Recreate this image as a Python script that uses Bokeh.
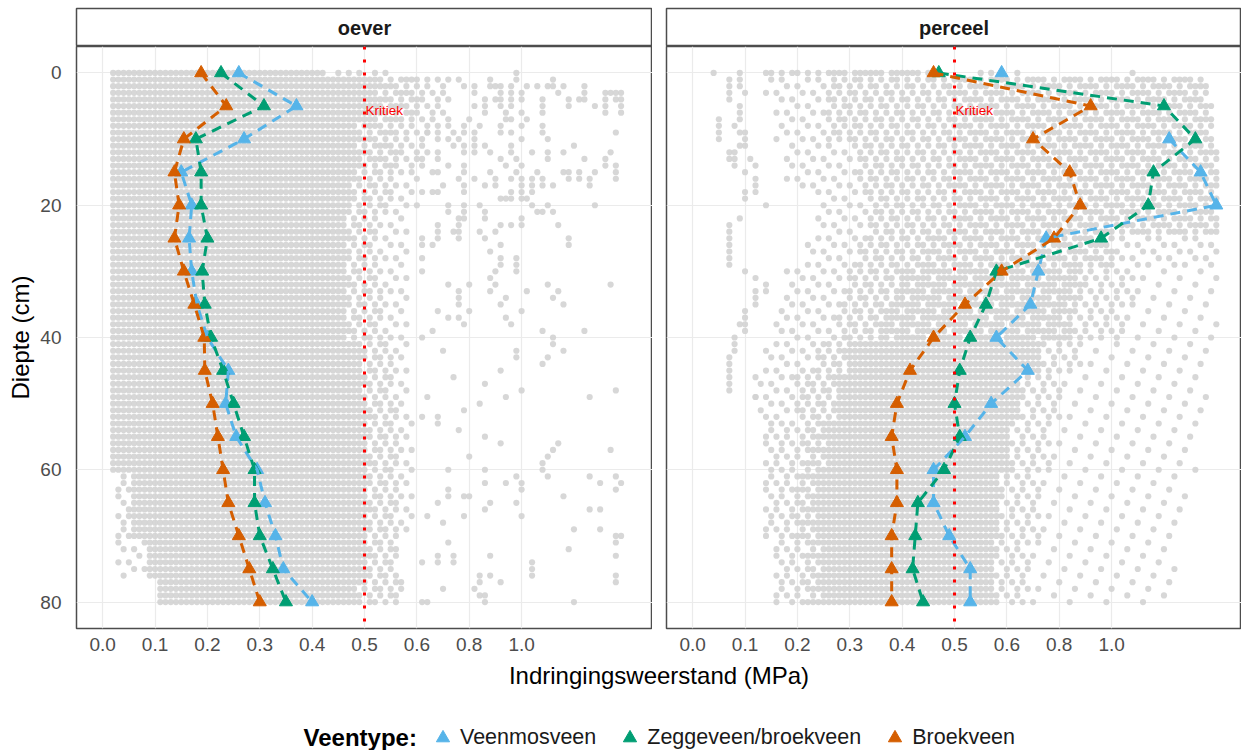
from bokeh.plotting import figure
from bokeh.models import Range1d, FixedTicker, Span, Label, Legend, LegendItem
from bokeh.layouts import column, row
from bokeh.embed import file_html
from bokeh.resources import INLINE

FONT = "Liberation Sans"
NA = float("nan")

# ---------------------------------------------------------------- data
# mean penetration resistance per depth, x in axis-scale units
DEPTHS = [0, 5, 10, 15, 20, 25, 30, 35, 40, 45, 50, 55, 60, 65, 70, 75, 80]

oever_veenmos = [0.26, 0.37, 0.27, 0.15, 0.17, 0.165, 0.17, 0.18, 0.20, 0.24, 0.235,
                 0.255, 0.295, 0.31, 0.33, 0.345, 0.40]
oever_zegge = [0.226, 0.308, 0.178, 0.188, 0.188, 0.20, 0.19, 0.195, 0.207, 0.23, 0.25,
               0.27, 0.29, 0.29, 0.30, 0.325, 0.35]
oever_broek = [0.188, 0.236, 0.155, 0.137, 0.146, 0.137, 0.155, 0.175, 0.194, 0.195, 0.21,
               0.22, 0.23, 0.24, 0.26, 0.28, 0.30]

perceel_veenmos = [0.59, NA, 0.91, 0.97, 1.00, 0.675, 0.66, 0.645, 0.58, 0.64, 0.57,
                   0.52, 0.46, 0.46, 0.49, 0.53, 0.53]
perceel_zegge = [0.47, 0.90, 0.96, 0.88, 0.87, 0.78, 0.58, 0.56, 0.53, 0.51, 0.50,
                 0.51, 0.48, 0.43, 0.425, 0.42, 0.44]
perceel_broek = [0.46, 0.76, 0.65, 0.72, 0.74, 0.69, 0.59, 0.52, 0.46, 0.415, 0.39,
                 0.38, 0.39, 0.39, 0.38, 0.38, 0.38]

# individual measurements on the 0.01 x 1 cm measuring grid.
# bands: (first depth, last depth, [(x from, x to, occupied cells out of 7), ...])
oever_bands = [
    (0, 0, [(0.02, 0.42, 7), (0.43, 0.55, 3)]),
    (1, 7, [(0.02, 0.52, 7), (0.53, 0.60, 5), (0.61, 0.66, 3)]),
    (8, 14, [(0.02, 0.48, 7), (0.49, 0.56, 5), (0.57, 0.62, 3)]),
    (15, 20, [(0.02, 0.47, 7), (0.48, 0.55, 4), (0.56, 0.60, 2)]),
    (21, 30, [(0.02, 0.46, 7), (0.47, 0.52, 4), (0.53, 0.58, 2)]),
    (31, 40, [(0.02, 0.46, 7), (0.47, 0.53, 4), (0.54, 0.58, 2)]),
    (41, 50, [(0.02, 0.49, 7), (0.50, 0.55, 4), (0.56, 0.58, 2)]),
    (51, 60, [(0.02, 0.50, 7), (0.51, 0.56, 4), (0.57, 0.59, 2)]),
    (61, 70, [(0.03, 0.05, 3), (0.06, 0.50, 7), (0.51, 0.56, 4), (0.57, 0.59, 2)]),
    (71, 76, [(0.03, 0.08, 2), (0.09, 0.50, 7), (0.51, 0.56, 4)]),
    (77, 80, [(0.11, 0.48, 7), (0.49, 0.57, 4)]),
]
oever_tail = {
    0: [0.79], 1: [0.68, 0.74, 0.79, 0.86],
    2: [0.69, 0.71, 0.74, 0.75, 0.76, 0.78, 0.81, 0.83, 0.85, 0.86, 0.88, 0.92],
    3: [0.71, 0.76, 0.78, 0.80, 0.87, 0.92, 0.96, 0.97, 0.98, 0.99],
    4: [0.73, 0.75, 0.76, 0.78, 0.80, 0.84, 0.89, 0.91, 0.92, 0.96, 0.98, 0.99],
    5: [0.71, 0.73, 0.76, 0.78, 0.84, 0.89, 0.94, 0.96, 0.99],
    6: [0.73, 0.77, 0.80, 0.84, 0.96, 0.99], 7: [0.70, 0.77, 0.78, 0.81],
    8: [0.64, 0.66, 0.69, 0.72, 0.76, 0.80, 0.84],
    9: [0.62, 0.64, 0.67, 0.69, 0.71, 0.76, 0.78, 0.84, 0.98],
    10: [0.64, 0.66, 0.68, 0.71, 0.80, 0.85], 11: [0.67, 0.69, 0.71, 0.73, 0.78, 0.90],
    12: [0.64, 0.69, 0.71, 0.74, 0.78, 0.82, 0.85, 0.88, 0.97],
    13: [0.61, 0.64, 0.76, 0.79, 0.85, 0.92, 0.96], 14: [0.66, 0.69, 0.77, 0.80, 0.96, 0.98],
    15: [0.63, 0.64, 0.69, 0.74, 0.79, 0.83, 0.88, 0.89, 0.91, 0.94, 0.98],
    16: [0.68, 0.71, 0.75, 0.78, 0.80, 0.82, 0.84, 0.89, 0.91, 0.93, 0.98],
    17: [0.65, 0.69, 0.73, 0.75, 0.80, 0.82, 0.84, 0.86, 0.93],
    18: [0.61, 0.63, 0.64, 0.69, 0.78, 0.80, 0.82], 19: [0.76, 0.77, 0.78, 0.80, 0.81],
    20: [0.66, 0.69, 0.72, 0.82, 0.85, 0.94], 21: [0.66, 0.69, 0.73, 0.83, 0.84, 0.86],
    22: [0.68, 0.69, 0.73, 0.80], 23: [0.64, 0.68, 0.76, 0.78, 0.80, 0.87],
    24: [0.64, 0.67, 0.68, 0.72, 0.75], 25: [0.61, 0.64, 0.68, 0.73, 0.89],
    26: [0.61, 0.63, 0.76, 0.89], 27: [0.74], 28: [0.61, 0.76, 0.79], 29: [0.76, 0.79],
    30: [0.61, 0.75, 0.79], 31: [0.74], 32: [0.66, 0.70, 0.75, 0.85, 0.97],
    33: [0.68, 0.74, 0.81, 0.87], 34: [0.68, 0.77, 0.86], 35: [0.68, 0.76, 0.88],
    36: [0.64, 0.70, 0.80], 37: [0.66, 0.68, 0.77], 38: [0.69, 0.78], 39: [0.63, 0.84, 0.92],
    40: [0.61, 0.86], 41: [0.86], 42: [0.65, 0.79, 0.88], 43: [0.79, 0.85], 44: [0.84],
    45: [0.76], 46: [0.67], 47: [0.73], 48: [0.80, 0.98], 49: [0.62, 0.77, 0.93],
    50: [0.72], 51: [0.69], 52: [0.61, 0.64], 53: [0.64], 54: [0.68], 55: [0.73],
    56: [0.76, 0.87], 57: [0.86, 0.97], 58: [0.70, 0.85], 59: [0.84], 60: [0.66, 0.73, 0.84],
    61: [0.79, 0.85, 0.93, 0.98], 62: [0.73, 0.77, 0.80, 0.95, 0.99], 63: [0.66, 0.80, 0.98],
    64: [0.66, 0.69, 0.70, 0.88], 65: [0.64, 0.74, 0.79], 66: [0.73, 0.93, 0.95],
    67: [0.62, 0.69, 0.80], 68: [0.65], 69: [0.90, 0.95], 70: [0.98, 0.99], 71: [0.66, 0.98],
    72: [0.89], 73: [0.64, 0.67, 0.74, 0.98], 74: [0.61, 0.64, 0.67, 0.82], 75: [0.82],
    76: [0.72, 0.74, 0.82, 0.98], 77: [0.72, 0.76, 0.98], 78: [0.65, 0.71], 79: [0.72, 0.73],
    80: [0.61, 0.62, 0.73, 0.90],
}

perceel_bands = [
    (0, 0, [(0.26, 0.45, 6)]),
    (1, 4, [(0.14, 0.25, 2), (0.26, 0.49, 4), (0.50, 0.98, 5)]),
    (5, 10, [(0.16, 0.25, 2), (0.26, 0.49, 4), (0.50, 0.99, 5)]),
    (11, 17, [(0.18, 0.31, 2), (0.32, 0.49, 4), (0.50, 1.00, 5)]),
    (18, 24, [(0.24, 0.33, 2), (0.34, 0.49, 4), (0.50, 1.00, 5)]),
    (25, 29, [(0.22, 0.31, 2), (0.32, 0.43, 4), (0.44, 0.80, 5), (0.81, 1.00, 2)]),
    (30, 34, [(0.18, 0.29, 2), (0.30, 0.39, 4), (0.40, 0.74, 6), (0.75, 0.84, 3), (0.85, 1.00, 1)]),
    (35, 40, [(0.16, 0.27, 2), (0.28, 0.35, 4), (0.36, 0.72, 6), (0.73, 0.82, 3), (0.83, 1.00, 1)]),
    (41, 45, [(0.14, 0.23, 2), (0.24, 0.29, 4), (0.30, 0.66, 7), (0.67, 0.74, 3), (0.75, 0.98, 1)]),
    (46, 52, [(0.12, 0.19, 2), (0.20, 0.27, 4), (0.28, 0.62, 7), (0.63, 0.70, 3), (0.71, 0.98, 1)]),
    (53, 60, [(0.14, 0.21, 3), (0.22, 0.25, 5), (0.26, 0.60, 7), (0.61, 0.68, 3), (0.69, 0.96, 1)]),
    (61, 70, [(0.14, 0.19, 3), (0.20, 0.23, 5), (0.24, 0.58, 7), (0.59, 0.66, 3), (0.67, 0.94, 1)]),
    (71, 80, [(0.16, 0.21, 3), (0.22, 0.24, 5), (0.25, 0.57, 7), (0.58, 0.64, 3), (0.65, 0.92, 1)]),
]
perceel_tail = {
    0: [0.04, 0.09, 0.14, 0.15, 0.17, 0.19, 0.20, 0.22, 0.24, 0.55, 0.57, 0.62, 0.84],
    1: [0.07, 0.09], 2: [0.07, 0.09], 3: [0.07, 0.10], 4: [0.07], 5: [0.09],
    6: [0.09], 7: [0.05, 0.09], 8: [0.05, 0.08], 9: [0.05, 0.09, 0.10],
    10: [0.05, 0.10], 11: [0.09, 0.10], 12: [0.07, 0.08], 13: [0.07, 0.08, 0.11],
    14: [0.08, 0.12], 15: [0.10], 16: [0.12], 17: [0.12], 18: [0.10, 0.12], 19: [0.10],
    20: [0.14], 22: [0.09], 23: [0.07], 24: [0.07], 25: [0.07], 26: [0.07], 27: [0.07],
    28: [0.07], 29: [0.07], 30: [0.10], 31: [0.12], 32: [0.14], 33: [0.12, 0.14], 34: [0.12],
    35: [0.12], 36: [0.10], 37: [0.10], 38: [0.09, 0.10], 39: [0.10], 40: [0.08], 41: [0.08],
    42: [0.08], 43: [0.07], 44: [0.07], 45: [0.07], 46: [0.07], 47: [0.07], 48: [0.07],
    49: [0.12],
}

X_TICKS = [0.0, 0.1, 0.2, 0.3, 0.4, 0.5, 0.6, 0.7, 0.8]
X_TICK_LABELS = ["0.0", "0.1", "0.2", "0.3", "0.4", "0.5", "0.6", "0.8", "1.0"]
Y_TICKS = [0, 20, 40, 60, 80]
KRITIEK = 0.5
KRITIEK_DEPTH = 5.7

SERIES_NAMES = ["Veenmosveen", "Zeggeveen/broekveen", "Broekveen"]
SERIES_COLORS = ["#56B4E9", "#009E73", "#D55E00"]


def cloud_points(bands, tail):
    """Expand the occupied grid cells of every depth row into point coordinates."""
    xs, ys = [], []
    for d_first, d_last, segments in bands:
        for d in range(d_first, d_last + 1):
            for lo, hi, k in segments:
                for i in range(int(round(lo * 100)), int(round(hi * 100)) + 1):
                    if (3 * i + 5 * d) % 7 < k:
                        xs.append(i / 100)
                        ys.append(d)
    for d, row_x in tail.items():
        xs.extend(row_x)
        ys.extend([d] * len(row_x))
    return xs, ys


def make_strip(title, width, left):
    s = figure(width=width, height=46, x_range=Range1d(0, 1), y_range=Range1d(0, 1),
               x_axis_type=None, y_axis_type=None, output_backend="svg",
               toolbar_location=None, min_border_left=left, min_border_right=0,
               min_border_top=8, min_border_bottom=0)
    s.outline_line_color = "#4D4D4D"
    s.outline_line_width = 1.5
    s.add_layout(Label(x=0.5, y=0.5, text=title, text_align="center",
                       text_baseline="middle", text_font=FONT, text_font_size="20px",
                       text_font_style="bold", text_color="#1A1A1A"))
    return s


def make_panel(values, bands, tail, width, left, x_end, show_y):
    p = figure(width=width, height=616, x_range=Range1d(-0.05, x_end),
               y_range=Range1d(84, -4), output_backend="svg", toolbar_location=None,
               min_border_left=left, min_border_right=0, min_border_top=0,
               min_border_bottom=34)
    p.outline_line_color = "#4D4D4D"
    p.outline_line_width = 1.5

    p.xaxis.ticker = FixedTicker(ticks=X_TICKS)
    p.xaxis.major_label_overrides = dict(zip(X_TICKS, X_TICK_LABELS))
    p.yaxis.ticker = FixedTicker(ticks=Y_TICKS)
    for ax in (p.xaxis, p.yaxis):
        ax.axis_line_color = None
        ax.major_tick_line_color = None
        ax.minor_tick_line_color = None
        ax.major_label_text_font = FONT
        ax.major_label_text_font_size = "19px"
        ax.major_label_text_color = "#4D4D4D"
    p.xaxis.major_label_standoff = 3
    p.yaxis.major_label_standoff = 9
    if show_y:
        p.yaxis.axis_label = "Diepte (cm)"
        p.yaxis.axis_label_text_font = FONT
        p.yaxis.axis_label_text_font_size = "24px"
        p.yaxis.axis_label_text_font_style = "normal"
        p.yaxis.axis_label_text_color = "black"
        p.yaxis.axis_label_standoff = 3
    else:
        p.yaxis.visible = False

    p.xgrid.ticker = FixedTicker(ticks=X_TICKS)
    p.ygrid.ticker = FixedTicker(ticks=Y_TICKS)
    p.grid.grid_line_color = "#EBEBEB"
    p.grid.grid_line_width = 1.2
    p.grid.minor_grid_line_color = None

    xs, ys = cloud_points(bands, tail)
    p.scatter(xs, ys, size=6.2, fill_color="#D3D3D3", fill_alpha=0.9, line_color=None)

    p.add_layout(Span(location=KRITIEK, dimension="height", line_color="red",
                      line_width=3, line_dash="3 10", level="glyph"))
    p.add_layout(Label(x=KRITIEK, y=KRITIEK_DEPTH, x_offset=1, text="Kritiek",
                       text_align="left", text_baseline="middle", text_font=FONT,
                       text_font_size="13.5px", text_color="red"))

    for vals, c in zip(values, SERIES_COLORS):
        p.scatter(vals, DEPTHS, marker="triangle", size=13, fill_color=c, line_color=c)
    for vals, c in zip(values, SERIES_COLORS):
        p.line(vals, DEPTHS, line_color=c, line_width=3, line_dash="10 7")
    return p


LEFT_W = 652
RIGHT_W = 589

strip_l = make_strip("oever", LEFT_W, 76)
strip_r = make_strip("perceel", RIGHT_W, 14)
panel_l = make_panel([oever_veenmos, oever_zegge, oever_broek], oever_bands, oever_tail,
                     LEFT_W, 76, 1.05, True)
panel_r = make_panel([perceel_veenmos, perceel_zegge, perceel_broek], perceel_bands,
                     perceel_tail, RIGHT_W, 14, -0.05 + 575 * 1.1 / 576, False)

# bottom strip: shared x-axis title and legend
bottom = figure(width=1241, height=88, x_range=Range1d(0, 1241), y_range=Range1d(0, 88),
                x_axis_type=None, y_axis_type=None, output_backend="svg",
                toolbar_location=None, min_border=0)
bottom.outline_line_color = None
bottom.add_layout(Label(x=658.5, y=75, text="Indringingsweerstand (MPa)", text_align="center",
                        text_baseline="middle", text_font=FONT, text_font_size="24px",
                        text_color="black"))
bottom.add_layout(Label(x=303, y=13, text="Veentype:", text_align="left",
                        text_baseline="middle", text_font=FONT, text_font_size="24px",
                        text_font_style="bold", text_color="black"))
items = []
for name, c in zip(SERIES_NAMES, SERIES_COLORS):
    r = bottom.scatter([0], [-50], marker="triangle", size=13, fill_color=c, line_color=c)
    items.append(LegendItem(label=name, renderers=[r]))
legend = Legend(items=items, orientation="horizontal", location=(426, -4),
                glyph_width=33, glyph_height=33, label_standoff=1, spacing=17,
                padding=0, margin=0, border_line_color=None, background_fill_alpha=0,
                label_text_font=FONT, label_text_font_size="21.5px",
                label_text_color="#1A1A1A")
bottom.add_layout(legend)

layout = column(row(strip_l, strip_r), row(panel_l, panel_r), bottom)

open("out.html", "w").write(file_html(layout, INLINE))
